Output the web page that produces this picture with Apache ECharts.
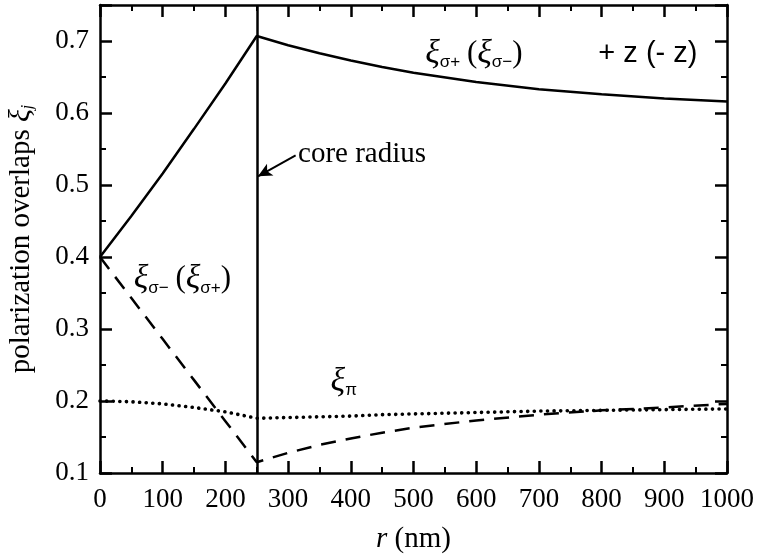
<!DOCTYPE html>
<html>
<head>
<meta charset="utf-8">
<script src="https://cdn.jsdelivr.net/npm/echarts@6/dist/echarts.min.js"></script>
<style>
html,body{margin:0;padding:0;background:#fff}
#main{width:757px;height:555px}
</style>
</head>
<body>
<div id="main"></div>
<script>
// radius (nm) and the three overlaps
var radius  = [0, 50, 100, 150, 200, 250, 300, 350, 400, 450, 500, 600, 700, 800, 900, 1000];
var xiPlus  = [0.400, 0.457, 0.516, 0.578, 0.641, 0.707, 0.694, 0.683, 0.673, 0.664, 0.656, 0.643, 0.633, 0.626, 0.620, 0.616];
var xiMinus = [0.400, 0.343, 0.286, 0.229, 0.172, 0.115, 0.128, 0.139, 0.148, 0.156, 0.163, 0.173, 0.181, 0.187, 0.191, 0.196];
var xiPi    = [0.200, 0.199, 0.196, 0.191, 0.185, 0.176, 0.177, 0.178, 0.179, 0.181, 0.182, 0.184, 0.186, 0.187, 0.188, 0.189];
var coreRadius = 250;
var arrowFrom = [312, 0.541];
var arrowTo = [252, 0.512];

var serif = '"Liberation Serif","Times New Roman",serif';
var sans = '"Liberation Sans",Arial,sans-serif';
var black = '#000';

function pairs(ys) {
    var out = [];
    for (var i = 0; i < radius.length; i++) out.push([radius[i], ys[i]]);
    return out;
}

// one axis per side, ticks pointing into the plot
function frameAxis(extra) {
    var a = {
        type: 'value',
        axisLine: {show: true, onZero: false, lineStyle: {color: black, width: 2.5}},
        axisTick: {show: true, inside: true, length: 12, lineStyle: {color: black, width: 2.5}},
        minorTick: {show: true, splitNumber: 2, length: 6, lineStyle: {color: black, width: 2}},
        splitLine: {show: false},
        axisLabel: {show: false}
    };
    for (var k in extra) a[k] = extra[k];
    return a;
}

var rich = {
    x: {fontFamily: serif, fontStyle: 'italic', fontSize: 34, color: black},
    s: {fontFamily: sans, fontSize: 17, color: black, verticalAlign: 'bottom', lineHeight: 14},
    p: {fontFamily: serif, fontSize: 31, color: black},
    z: {fontFamily: sans, fontSize: 29, color: black},
    c: {fontFamily: serif, fontSize: 29, color: black}
};

// curve annotations, placed in data coordinates
var labels = [
    {r: 518, v: 0.682, text: '{x|ξ}{s|σ+}  {p|(}{x|ξ}{s|σ−}{p|)}'},
    {r: 794, v: 0.682, text: '{z|+ z (- z)}'},
    {r: 53, v: 0.369, text: '{x|ξ}{s|σ−}  {p|(}{x|ξ}{s|σ+}{p|)}'},
    {r: 367, v: 0.226, text: '{x|ξ}{s|π}'},
    {r: 315, v: 0.542, text: '{c|core radius}'}
];

var chart = echarts.init(document.getElementById('main'));
var option = {
    animation: false,
    grid: {left: 100, right: 30, top: 5, bottom: 82, outerBoundsMode: 'none'},
    xAxis: [
        frameAxis({
            position: 'bottom', min: 0, max: 1000, interval: 100,
            axisLabel: {show: true, color: black, fontFamily: serif, fontSize: 27, margin: 13,
                formatter: function (v) { return String(v); }},
            name: '{i|r} (nm)', nameLocation: 'middle', nameGap: 52,
            nameTextStyle: {color: black, fontFamily: serif, fontSize: 29,
                rich: {i: {fontFamily: serif, fontStyle: 'italic', fontSize: 29, color: black}}}
        }),
        frameAxis({position: 'top', min: 0, max: 1000, interval: 100})
    ],
    yAxis: [
        frameAxis({
            position: 'left', min: 0.1, max: 0.75, interval: 0.1,
            axisLabel: {show: true, color: black, fontFamily: serif, fontSize: 27, margin: 11,
                showMaxLabel: false, formatter: function (v) { return v.toFixed(1); }},
            name: 'polarization overlaps {x|ξ}{s|j}', nameLocation: 'middle', nameGap: 64,
            nameTextStyle: {color: black, fontFamily: serif, fontSize: 29,
                rich: {
                    x: {fontFamily: serif, fontStyle: 'italic', fontSize: 30, color: black},
                    s: {fontFamily: serif, fontStyle: 'italic', fontSize: 16, color: black, verticalAlign: 'bottom', lineHeight: 14}
                }}
        }),
        frameAxis({position: 'right', min: 0.1, max: 0.75, interval: 0.1})
    ],
    series: [
        {
            name: 'xi sigma+', type: 'line', xAxisIndex: 0, yAxisIndex: 0,
            data: pairs(xiPlus), showSymbol: false, symbol: 'none',
            lineStyle: {color: black, width: 2.5},
            markLine: {
                silent: true, symbol: 'none', label: {show: false},
                lineStyle: {color: black, width: 2.5, type: 'solid'},
                data: [{xAxis: coreRadius}]
            }
        },
        {
            name: 'xi sigma-', type: 'line', xAxisIndex: 0, yAxisIndex: 0,
            data: pairs(xiMinus), showSymbol: false, symbol: 'none',
            lineStyle: {color: black, width: 2.5, type: [15, 10]},
            markPoint: {
                silent: true, symbol: 'rect', symbolSize: 1,
                itemStyle: {color: 'rgba(0,0,0,0)'},
                label: {show: true, position: 'right', distance: 0, color: black, rich: rich},
                data: labels.map(function (l) {
                    return {coord: [l.r, l.v], label: {formatter: l.text}};
                })
            }
        },
        {
            name: 'xi pi', type: 'line', xAxisIndex: 0, yAxisIndex: 0,
            data: pairs(xiPi), showSymbol: false, symbol: 'none',
            lineStyle: {color: black, width: 3.6, type: [0.1, 6.5], cap: 'round'},
            markLine: {
                silent: true, label: {show: false},
                symbol: ['none', 'arrow'], symbolSize: [10, 14],
                lineStyle: {color: black, width: 2, type: 'solid'},
                data: [[{coord: arrowFrom}, {coord: arrowTo}]]
            }
        }
    ]
};
chart.setOption(option);
</script>
</body>
</html>
